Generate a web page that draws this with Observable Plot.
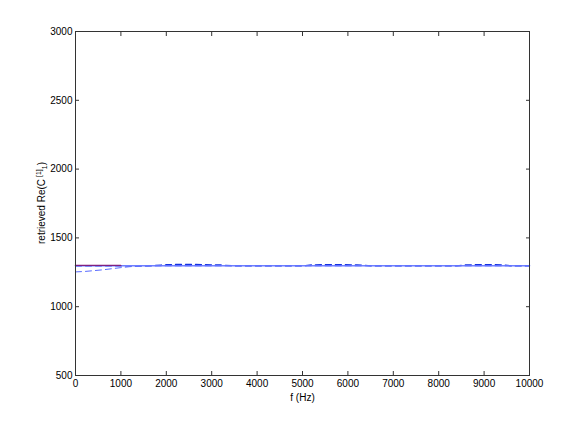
<!DOCTYPE html>
<html>
<head>
<meta charset="utf-8">
<script src="https://cdn.jsdelivr.net/npm/d3@7"></script>
<script src="https://cdn.jsdelivr.net/npm/@observablehq/plot@0.6"></script>
<style>
body { margin: 0; background: #fff; }
svg { font-family: "Liberation Sans", Arial, sans-serif; }
</style>
</head>
<body>
<div id="chart"></div>
<script>
const xTicks = [0, 1000, 2000, 3000, 4000, 5000, 6000, 7000, 8000, 9000, 10000];
const yTicks = [500, 1000, 1500, 2000, 2500, 3000];

// reference value (red)
const refF = [0, 1000];
const refV = [1300, 1300];
// retrieved, solid blue
const solidF = [0, 1000, 2000, 3000, 4000, 5000, 6000, 7000, 8000, 9000, 10000];
const solidV = [1297, 1297, 1297, 1297, 1297, 1297, 1297, 1297, 1297, 1297, 1297];
// retrieved, dashed blue (low start)
const dashF = [0, 200, 400, 600, 800, 1000, 1200, 1500, 2000, 3000, 5000, 7000, 10000];
const dashV = [1253, 1256, 1262, 1268, 1276, 1284, 1291, 1295, 1297, 1297, 1297, 1297, 1297];
// retrieved, dark dashed
const darkF = [0, 1000, 1600, 2000, 2400, 2800, 3200, 3500, 5000, 5200, 5700, 6200, 6500, 8400, 8600, 9000, 9400, 9600, 10000];
const darkV = [1297, 1297, 1297, 1305, 1308, 1306, 1303, 1297, 1297, 1304, 1306, 1304, 1297, 1297, 1304, 1306, 1304, 1297, 1297];

const toRows = (F, V) => F.map((f, i) => ({f, v: V[i]}));

const plot = Plot.plot({
  width: 585,
  height: 423,
  marginLeft: 75,
  marginRight: 56,
  marginTop: 31,
  marginBottom: 48,
  x: {domain: [0, 10000]},
  y: {domain: [500, 3000]},
  style: {fontSize: "10px", fontFamily: "Liberation Sans, Arial, sans-serif", color: "#000"},
  marks: [
    Plot.lineY(toRows(darkF, darkV), {x: "f", y: "v", stroke: "#1530e0", strokeWidth: 1.3, strokeDasharray: "6,4"}),
    Plot.lineY(toRows(solidF, solidV), {x: "f", y: "v", stroke: "#7080ff", strokeWidth: 1.5}),
    Plot.lineY(toRows(refF, refV), {x: "f", y: "v", stroke: "#802080", strokeWidth: 1.2}),
    Plot.lineY(toRows(dashF, dashV), {x: "f", y: "v", stroke: "#5a6cff", strokeWidth: 1, strokeDasharray: "6,4"}),
    Plot.frame({stroke: "#333", strokeWidth: 1}),
    Plot.axisX({ticks: xTicks, tickSize: -4, tickPadding: 8, tickFormat: d => String(d), label: "f (Hz)", labelAnchor: "center", labelArrow: "none", labelOffset: 25, stroke: "#333"}),
    Plot.axisX({ticks: xTicks, anchor: "top", tickSize: -4, text: null, label: null, stroke: "#333"}),
    Plot.axisY({ticks: yTicks, tickSize: -4, tickPadding: 7, tickFormat: d => String(d), label: null, stroke: "#333"}),
    Plot.axisY({ticks: yTicks, anchor: "right", tickSize: -4, text: null, label: null, stroke: "#333"})
  ]
});
document.getElementById("chart").appendChild(plot);

// y-axis label with superscript and subscript
const svg = d3.select(plot);
const t = svg.append("text")
  .attr("transform", "translate(45,203) rotate(-90)")
  .attr("text-anchor", "middle")
  .attr("font-size", 10)
  .attr("fill", "#000");
t.append("tspan").text("retrieved Re(C");
t.append("tspan").attr("font-size", 7).attr("dy", -4).text(" [1]");
t.append("tspan").attr("font-size", 7).attr("dy", 6).text("1");
t.append("tspan").attr("dy", -2).text(")");
</script>
</body>
</html>
